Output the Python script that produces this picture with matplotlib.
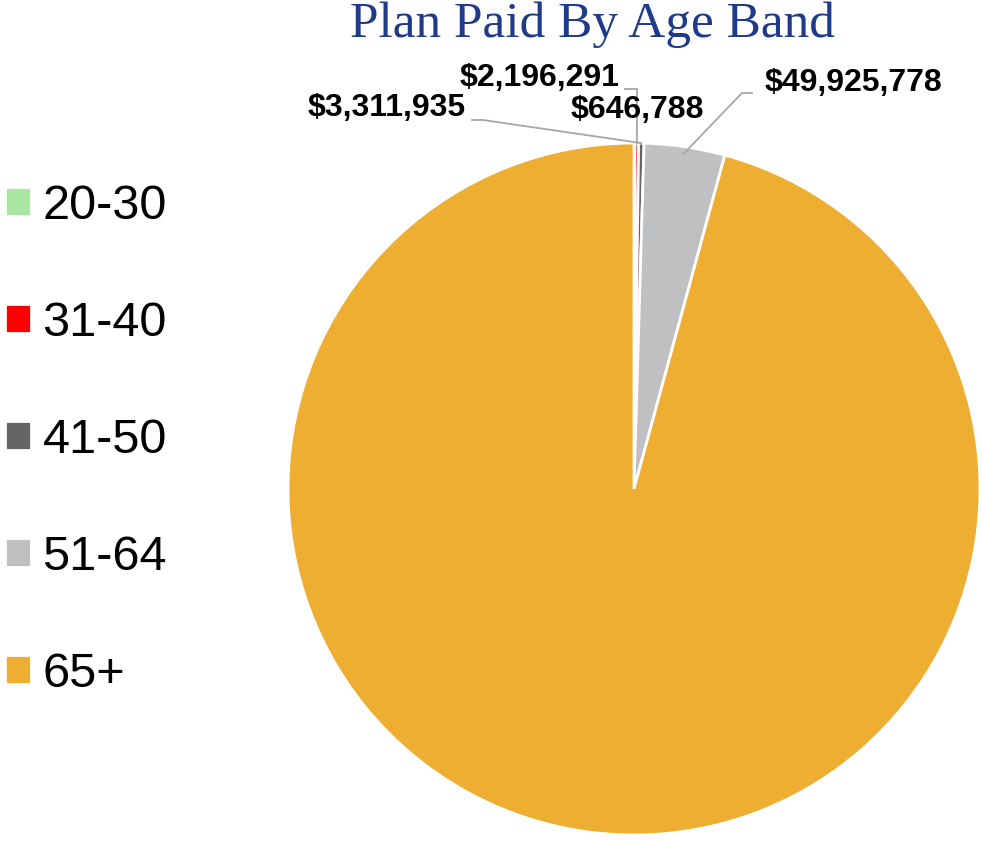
import numpy as np
import matplotlib.pyplot as plt

bands = ["20-30", "31-40", "41-50", "51-64", "65+"]
paid = [646788, 2196291, 3311935, 49925778, 1270000000]
colors = ["#a9e6a3", "#ff0000", "#636466", "#bfc0c2", "#edae32"]
shown = [True, True, True, True, False]

W, H = 982, 842
fig = plt.figure(figsize=(W / 100, H / 100), dpi=100)

# pie placement (pixels): centre (634, 489), radius 346
cx, cy, r = 634, 489, 346
ax = fig.add_axes([(cx - r) / W, (H - cy - r) / H, 2 * r / W, 2 * r / H])
wedges, _ = ax.pie(paid, colors=colors, startangle=90, counterclock=False,
                   wedgeprops=dict(edgecolor="white", linewidth=2))
ax.set_xlim(-1, 1)
ax.set_ylim(-1, 1)
ax.set_aspect("equal")
ax.axis("off")


def d(px, py):
    # pixel -> pie data coords
    return ((px - cx) / r, (cy - py) / r)


# label layout: text centre, elbow point (None = no leader)
layout = {
    0: ((637, 110), None),
    1: ((540, 78), [(625, 89), (637, 89)]),
    2: ((387, 108), [(472, 120), (483, 120)]),
    3: ((853, 83), [(752, 93), (742, 93)]),
}
for i, w in enumerate(wedges):
    if not shown[i]:
        continue
    (tx, ty), elbow = layout[i]
    ang = np.deg2rad((w.theta1 + w.theta2) / 2)
    ax.text(*d(tx, ty), "${:,}".format(paid[i]), ha="center", va="center",
            fontsize=23, fontweight="bold", family="Liberation Sans",
            clip_on=False)
    if elbow is not None:
        rr = 1.0 if i < 3 else 0.98
        pts = [d(*p) for p in elbow] + [(rr * np.cos(ang), rr * np.sin(ang))]
        xs, ys = zip(*pts)
        ax.plot(xs, ys, color="#a6a6a6", lw=1.3, clip_on=False)

fig.text(592 / W, 1 - 25 / H, "Plan Paid By Age Band", ha="center",
         va="center", fontsize=37, color="#203a8a", family="Liberation Serif")

fig.legend(wedges, bands, loc="upper left", bbox_to_anchor=(5 / W, 1 - 184 / H),
           frameon=False, handlelength=0.53, handleheight=0.53,
           handletextpad=0.24, labelspacing=1.48, borderaxespad=0, borderpad=0,
           prop=dict(family="Liberation Sans", size=35))

fig.savefig("out.png", dpi=100)
